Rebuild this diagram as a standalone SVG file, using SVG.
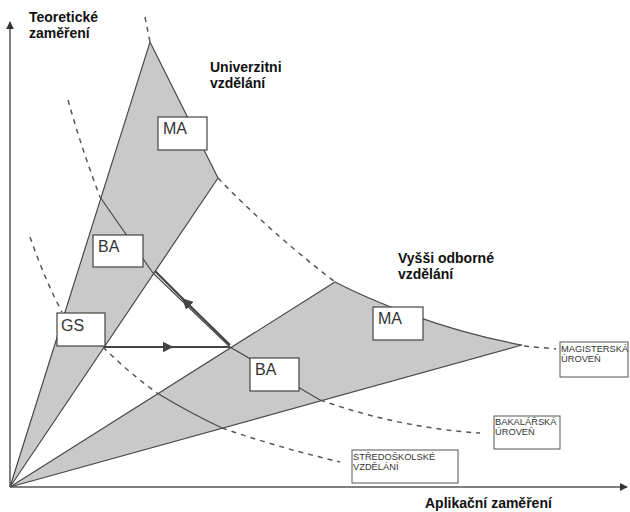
<svg xmlns="http://www.w3.org/2000/svg" width="630" height="512" viewBox="0 0 630 512">
<defs>
<style>
.bg{fill:#ffffff}
.wedge{fill:#c9c9c9;stroke:#4a4a4a;stroke-width:1.2;stroke-linejoin:miter}
.solid{fill:none;stroke:#4a4a4a;stroke-width:1.2}
.dash{fill:none;stroke:#555;stroke-width:1.5;stroke-dasharray:5 5}
.axis{fill:none;stroke:#555;stroke-width:1.5}
.arrow{fill:none;stroke:#444;stroke-width:2.2}
.box{fill:#ffffff;stroke:#444;stroke-width:1.2}
.lvl{fill:#ffffff;stroke:#555;stroke-width:1}
.big{font-family:"Liberation Sans",Arial,sans-serif;font-weight:bold;font-size:14px;fill:#111}
.deg{font-family:"Liberation Sans",Arial,sans-serif;font-size:16px;fill:#333}
.small{font-family:"Liberation Sans",Arial,sans-serif;font-size:9.3px;fill:#333}
</style>
<marker id="ah" viewBox="0 0 10 10" refX="9" refY="5" markerWidth="8" markerHeight="8" orient="auto" markerUnits="userSpaceOnUse">
<path d="M0,0 L10,5 L0,10 z" fill="#333"/>
</marker>
<marker id="mid" viewBox="0 0 10 10" refX="5" refY="5" markerWidth="11" markerHeight="11" orient="auto" markerUnits="userSpaceOnUse">
<path d="M0,0 L10,5 L0,10 z" fill="#444"/>
</marker>
</defs>
<rect class="bg" x="0" y="0" width="630" height="512"/>

<g id="wedges">
<path id="wedge-univ" class="wedge" d="M10,487 L150,42 L218,178 Z"/>
<path id="wedge-voc" class="wedge" d="M10,487 L335,282 C370,300 440,330 522,345 Z"/>
</g>

<g id="connectors">
<line class="axis" x1="10" y1="487" x2="10" y2="22" marker-end="url(#ah)"/>
<line class="axis" x1="10" y1="487" x2="627" y2="487" marker-end="url(#ah)"/>
<path class="dash" d="M145,17 L150,42"/>
<path class="dash" d="M218,178 Q270,232 335,282"/>
<path class="dash" d="M524,346 L556,349"/>
<path class="dash" d="M68,100 Q82,150 100,197"/>
<path class="solid" d="M100,197 L153,273"/>
<path class="solid" d="M153,273 L230,347 L320,400"/>
<path class="dash" d="M320,400 Q400,428 480,433"/>
<path class="dash" d="M30,237 Q45,280 62,312"/>
<path class="dash" d="M103,347 Q128,372 157,393"/>
<path class="solid" d="M157,393 Q190,413 222,428"/>
<path class="dash" d="M222,428 Q280,448 340,462"/>
<path class="arrow" d="M104,347 L168,347" marker-end="url(#mid)"/>
<path class="arrow" d="M165,347 L230,347"/>
<path class="arrow" d="M230,345 L186,302" marker-end="url(#mid)"/>
<path class="arrow" d="M189,305 L155,271"/>
</g>

<g id="node-ma-univ">
<rect class="box" x="158" y="117" width="49" height="33"/>
<text class="deg" x="163" y="134">MA</text>
</g>
<g id="node-ba-univ">
<rect class="box" x="93" y="235" width="50" height="32"/>
<text class="deg" x="98" y="252">BA</text>
</g>
<g id="node-gs">
<rect class="box" x="57" y="313" width="48" height="33"/>
<text class="deg" x="61" y="331">GS</text>
</g>
<g id="node-ba-voc">
<rect class="box" x="250" y="358" width="49" height="33"/>
<text class="deg" x="255" y="375">BA</text>
</g>
<g id="node-ma-voc">
<rect class="box" x="373" y="307" width="50" height="33"/>
<text class="deg" x="378" y="324">MA</text>
</g>

<g id="level-magisterska">
<rect class="lvl" x="560" y="342" width="68" height="35"/>
<text class="small" x="561" y="352">MAGISTERSKÁ</text>
<text class="small" x="561" y="362">ÚROVEŇ</text>
</g>
<g id="level-bakalarska">
<rect class="lvl" x="494" y="416" width="66" height="33"/>
<text class="small" x="495" y="425">BAKALÁŘSKÁ</text>
<text class="small" x="495" y="435">ÚROVEŇ</text>
</g>
<g id="level-stredoskolske">
<rect class="lvl" x="352" y="450" width="106" height="33"/>
<text class="small" x="353" y="460">STŘEDOŠKOLSKÉ</text>
<text class="small" x="353" y="470">VZDĚLÁNÍ</text>
</g>

<g id="labels">
<text class="big" x="29" y="22">Teoretické</text>
<text class="big" x="29" y="38">zaměření</text>
<text class="big" x="210" y="72">Univerzitni</text>
<text class="big" x="210" y="88">vzdělání</text>
<text class="big" x="398" y="263">Vyšši odborné</text>
<text class="big" x="398" y="279">vzdělání</text>
<text class="big" x="425" y="508">Aplikační zaměření</text>
</g>
</svg>
